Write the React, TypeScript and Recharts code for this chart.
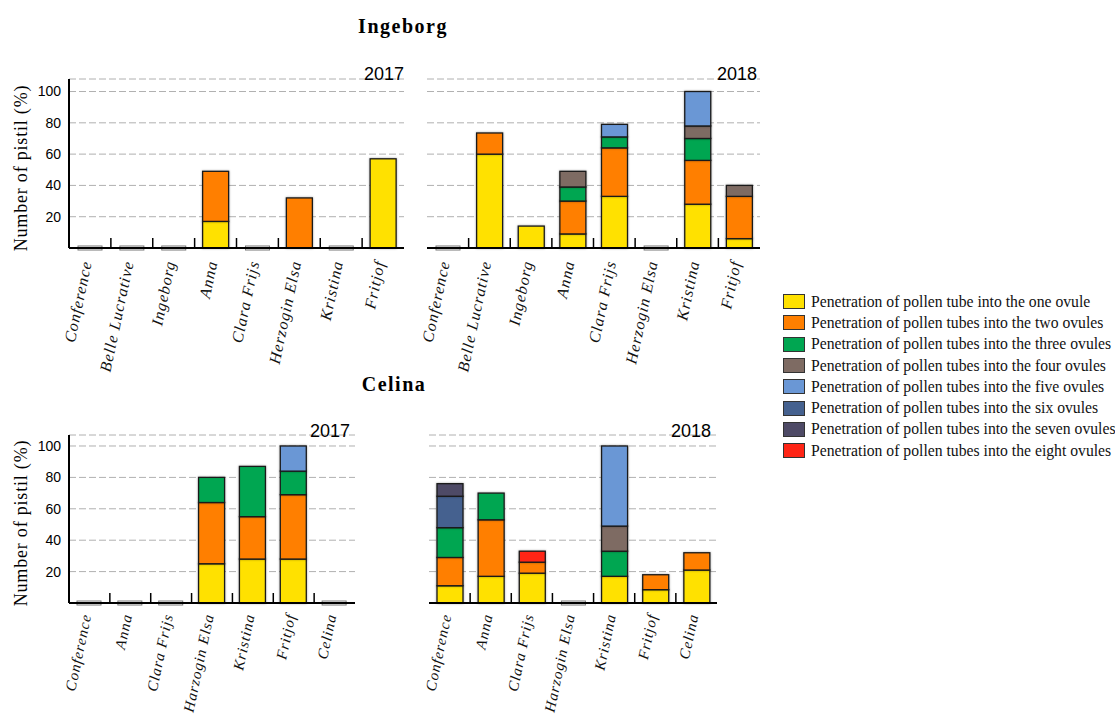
import React from 'react';
import { BarChart, Bar, XAxis, YAxis, CartesianGrid } from 'recharts';

// ---------- series ----------
const SERIES_KEYS = ['one', 'two', 'three', 'four', 'five', 'six', 'seven', 'eight'];
const SERIES_COLORS = ['#FFE100', '#FF7F00', '#00A651', '#7E6B63', '#6A97D5', '#45618F', '#4E4A66', '#FF2516'];
const SERIES_NAMES = [
  'Penetration of pollen tube into the one ovule',
  'Penetration of pollen tubes into the two ovules',
  'Penetration of pollen tubes into the three ovules',
  'Penetration of pollen tubes into the four ovules',
  'Penetration of pollen tubes into the five ovules',
  'Penetration of pollen tubes into the six ovules',
  'Penetration of pollen tubes into the seven ovules',
  'Penetration of pollen tubes into the eight ovules',
];

// ---------- Ingeborg ----------
const ingeborgPollinizers = ['Conference', 'Belle Lucrative', 'Ingeborg', 'Anna', 'Clara Frijs', 'Herzogin Elsa', 'Kristina', 'Fritjof'];
const ing2017One = [0, 0, 0, 17, 0, 0, 0, 57];
const ing2017Two = [0, 0, 0, 32, 0, 32, 0, 0];

const ing2018One = [0, 60, 14, 9, 33, 0, 28, 6];
const ing2018Two = [0, 13.5, 0, 21, 31, 0, 28, 27];
const ing2018Three = [0, 0, 0, 9, 7, 0, 14, 0];
const ing2018Four = [0, 0, 0, 10, 0, 0, 8, 7];
const ing2018Five = [0, 0, 0, 0, 8, 0, 22, 0];

// ---------- Celina ----------
const celinaPollinizers = ['Conference', 'Anna', 'Clara Frijs', 'Harzogin Elsa', 'Kristina', 'Fritjof', 'Celina'];
const cel2017One = [0, 0, 0, 25, 28, 28, 0];
const cel2017Two = [0, 0, 0, 39, 27, 41, 0];
const cel2017Three = [0, 0, 0, 16, 32, 15, 0];
const cel2017Five = [0, 0, 0, 0, 0, 16, 0];

const cel2018One = [11, 17, 19, 0, 17, 8.5, 21];
const cel2018Two = [18, 36, 7, 0, 0, 9.5, 11];
const cel2018Three = [19, 17, 0, 0, 16, 0, 0];
const cel2018Four = [0, 0, 0, 0, 16, 0, 0];
const cel2018Five = [0, 0, 0, 0, 51, 0, 0];
const cel2018Six = [20, 0, 0, 0, 0, 0, 0];
const cel2018Seven = [8, 0, 0, 0, 0, 0, 0];
const cel2018Eight = [0, 0, 7, 0, 0, 0, 0];

const yTicks = [20, 40, 60, 80, 100];

function buildRows(cats: string[], series: Record<string, number[]>) {
  return cats.map((name, i) => {
    const row: any = { name };
    let total = 0;
    SERIES_KEYS.forEach((k) => {
      const v = series[k] ? series[k][i] : 0;
      row[k] = v;
      total += v;
    });
    row.total = total;
    return row;
  });
}

const ing2017Rows = buildRows(ingeborgPollinizers, { one: ing2017One, two: ing2017Two });
const ing2018Rows = buildRows(ingeborgPollinizers, {
  one: ing2018One, two: ing2018Two, three: ing2018Three, four: ing2018Four, five: ing2018Five,
});
const cel2017Rows = buildRows(celinaPollinizers, {
  one: cel2017One, two: cel2017Two, three: cel2017Three, five: cel2017Five,
});
const cel2018Rows = buildRows(celinaPollinizers, {
  one: cel2018One, two: cel2018Two, three: cel2018Three, four: cel2018Four,
  five: cel2018Five, six: cel2018Six, seven: cel2018Seven, eight: cel2018Eight,
});

const SERIF = '"Liberation Serif", "Times New Roman", serif';
const SANS = '"Liberation Sans", Arial, sans-serif';

const SegmentShape = (props: any) => {
  const { x, y, width, height, fill, payload, dataKey } = props;
  if (dataKey === 'one' && payload && payload.total === 0) {
    return <rect x={x + 1} y={y - 2} width={width - 2} height={4} fill="#fff" stroke="#777" strokeWidth={1} />;
  }
  if (!height || height <= 0) return null;
  return (
    <rect x={x} y={y} width={width} height={height} fill={fill} stroke="#1a1a1a" strokeWidth={1.3}
      style={{ filter: 'drop-shadow(0px 0px 1px rgba(0,0,0,0.35))' }} />
  );
};

const makeTick = (band: number, fontSize: number, dy: number) => (props: any) => {
  const { x, y, payload, index } = props;
  return (
    <g>
      {index > 0 && (
        <line x1={x - band / 2} x2={x - band / 2} y1={y} y2={y - 10} stroke="#000" strokeWidth={1.5} />
      )}
      <text transform={`translate(${x + 2},${y + dy}) rotate(-78)`} textAnchor="end"
        fontFamily={SERIF} fontStyle="italic" fontSize={fontSize} letterSpacing={1} fill="#111">
        {payload.value}
      </text>
    </g>
  );
};

type PanelProps = {
  box: { left: number; top: number; width: number; height: number };
  plot: { x0: number; x1: number; y0: number; y1: number };
  data: any[];
  showY: boolean;
  yMax: number;
  labelSize: number;
  labelDy: number;
};

function Panel({ box, plot, data, showY, yMax, labelSize, labelDy }: PanelProps) {
  const leftSpace = plot.x0 - box.left;
  const rightSpace = box.left + box.width - plot.x1;
  const topSpace = plot.y0 - box.top;
  const bottomSpace = box.top + box.height - plot.y1;
  const band = (plot.x1 - plot.x0) / data.length;
  return (
    <div style={{ position: 'absolute', left: box.left, top: box.top }}>
      <BarChart width={box.width} height={box.height} data={data}
        margin={{ top: topSpace, right: rightSpace, bottom: 0, left: showY ? 0 : leftSpace }}
        barSize={26}>
        <CartesianGrid vertical={false} stroke="#b0b0b0" strokeDasharray="7 3" />
        <XAxis dataKey="name" height={bottomSpace} interval={0} tickLine={false} tickSize={0} tickMargin={0}
          axisLine={{ stroke: '#000', strokeWidth: 2 }} tick={makeTick(band, labelSize, labelDy)} />
        <YAxis type="number" domain={[0, yMax]} ticks={yTicks} hide={!showY} width={showY ? leftSpace : 0}
          tickLine={false} axisLine={{ stroke: '#000', strokeWidth: 2 }}
          tick={{ fontFamily: SANS, fontSize: 14, fill: '#000' }} />
        {SERIES_KEYS.map((k, i) => (
          <Bar key={k} dataKey={k} stackId="s" fill={SERIES_COLORS[i]} isAnimationActive={false}
            shape={(p: any) => <SegmentShape {...p} dataKey={k} />} />
        ))}
      </BarChart>
    </div>
  );
}

export default function App() {
  return (
    <div style={{ position: 'absolute', left: 0, top: 0, width: 1115, height: 715, background: '#fff', overflow: 'hidden' }}>
      <Panel box={{ left: 0, top: 60, width: 420, height: 320 }} plot={{ x0: 69, x1: 404, y0: 79, y1: 248 }}
        data={ing2017Rows} showY={true} yMax={108} labelSize={16} labelDy={14} />
      <Panel box={{ left: 420, top: 60, width: 360, height: 320 }} plot={{ x0: 427, x1: 760, y0: 79, y1: 248 }}
        data={ing2018Rows} showY={false} yMax={108} labelSize={16} labelDy={14} />
      <Panel box={{ left: 0, top: 410, width: 370, height: 305 }} plot={{ x0: 69, x1: 355, y0: 435, y1: 603 }}
        data={cel2017Rows} showY={true} yMax={107} labelSize={15} labelDy={12} />
      <Panel box={{ left: 400, top: 410, width: 330, height: 305 }} plot={{ x0: 429, x1: 717, y0: 435, y1: 603 }}
        data={cel2018Rows} showY={false} yMax={107} labelSize={15} labelDy={12} />

      <svg width={1115} height={715} style={{ position: 'absolute', left: 0, top: 0, pointerEvents: 'none' }}>
        <text x={403} y={33} textAnchor="middle" fontFamily={SERIF} fontWeight="bold" fontSize={20} letterSpacing={1.5}>Ingeborg</text>
        <text x={394} y={391} textAnchor="middle" fontFamily={SERIF} fontWeight="bold" fontSize={20} letterSpacing={1.5}>Celina</text>
        <text transform="translate(27,168) rotate(-90)" textAnchor="middle" fontFamily={SERIF} fontSize={18} letterSpacing={0.8}>Number of pistil (%)</text>
        <text transform="translate(27,523) rotate(-90)" textAnchor="middle" fontFamily={SERIF} fontSize={18} letterSpacing={0.8}>Number of pistil (%)</text>
        <text x={404} y={80} textAnchor="end" fontFamily={SANS} fontSize={18}>2017</text>
        <text x={757} y={80} textAnchor="end" fontFamily={SANS} fontSize={18}>2018</text>
        <text x={350} y={437} textAnchor="end" fontFamily={SANS} fontSize={18}>2017</text>
        <text x={711} y={437} textAnchor="end" fontFamily={SANS} fontSize={18}>2018</text>
      </svg>

      <div style={{ position: 'absolute', left: 783, top: 291 }}>
        {SERIES_NAMES.map((n, i) => (
          <div key={n} style={{ display: 'flex', alignItems: 'center', height: 21.3 }}>
            <div style={{ width: 22, height: 15, background: SERIES_COLORS[i], border: '1px solid #333', boxSizing: 'border-box', marginRight: 6 }} />
            <span style={{ fontFamily: SERIF, fontSize: 15.7, color: '#111', whiteSpace: 'nowrap' }}>{n}</span>
          </div>
        ))}
      </div>
    </div>
  );
}
